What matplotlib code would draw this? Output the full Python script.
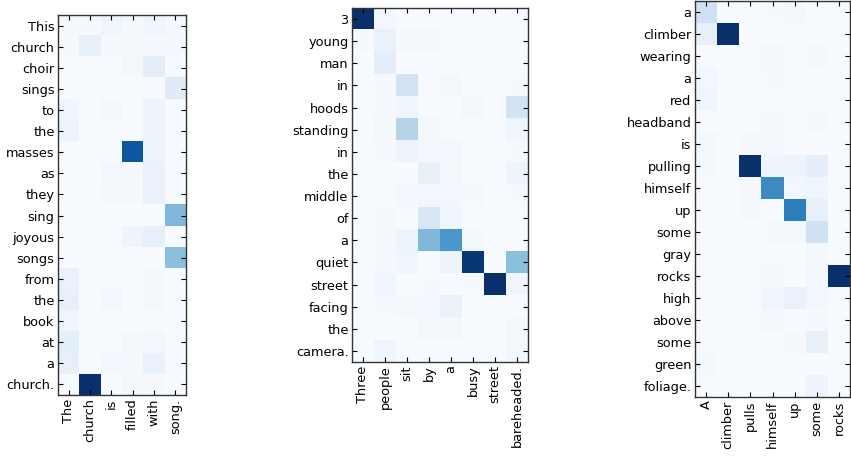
import matplotlib
matplotlib.use("Agg")
import matplotlib.pyplot as plt
import numpy as np

# panel 1
src1 = ["The", "church", "is", "filled", "with", "song."]
tgt1 = ["This", "church", "choir", "sings", "to", "the", "masses", "as", "they",
        "sing", "joyous", "songs", "from", "the", "book", "at", "a", "church."]
att1 = [
    [0.02, 0.01, 0.04, 0.02, 0.04, 0.01],
    [0.01, 0.08, 0.01, 0.01, 0.01, 0.01],
    [0.00, 0.00, 0.00, 0.02, 0.10, 0.00],
    [0.00, 0.00, 0.00, 0.00, 0.00, 0.12],
    [0.04, 0.00, 0.02, 0.00, 0.05, 0.00],
    [0.06, 0.00, 0.00, 0.00, 0.05, 0.00],
    [0.00, 0.00, 0.00, 0.85, 0.06, 0.00],
    [0.00, 0.00, 0.03, 0.01, 0.07, 0.00],
    [0.00, 0.00, 0.02, 0.01, 0.07, 0.00],
    [0.00, 0.00, 0.00, 0.00, 0.00, 0.45],
    [0.00, 0.00, 0.00, 0.05, 0.08, 0.00],
    [0.00, 0.00, 0.00, 0.00, 0.00, 0.42],
    [0.07, 0.00, 0.00, 0.00, 0.02, 0.00],
    [0.08, 0.00, 0.03, 0.00, 0.02, 0.00],
    [0.04, 0.00, 0.00, 0.00, 0.00, 0.00],
    [0.09, 0.00, 0.00, 0.02, 0.03, 0.00],
    [0.08, 0.00, 0.03, 0.01, 0.07, 0.00],
    [0.00, 1.00, 0.00, 0.02, 0.01, 0.00],
]

# panel 2
src2 = ["Three", "people", "sit", "by", "a", "busy", "street", "bareheaded."]
tgt2 = ["3", "young", "man", "in", "hoods", "standing", "in", "the", "middle",
        "of", "a", "quiet", "street", "facing", "the", "camera."]
att2 = [
    [1.00, 0.03, 0.00, 0.00, 0.00, 0.00, 0.00, 0.00],
    [0.01, 0.07, 0.01, 0.01, 0.00, 0.00, 0.00, 0.00],
    [0.00, 0.10, 0.00, 0.00, 0.00, 0.00, 0.00, 0.00],
    [0.00, 0.01, 0.18, 0.00, 0.02, 0.00, 0.00, 0.01],
    [0.00, 0.01, 0.04, 0.00, 0.00, 0.02, 0.00, 0.18],
    [0.00, 0.02, 0.30, 0.02, 0.00, 0.00, 0.00, 0.04],
    [0.00, 0.01, 0.05, 0.03, 0.03, 0.00, 0.00, 0.01],
    [0.00, 0.00, 0.00, 0.08, 0.02, 0.00, 0.00, 0.05],
    [0.00, 0.00, 0.03, 0.03, 0.03, 0.01, 0.00, 0.01],
    [0.00, 0.01, 0.00, 0.15, 0.04, 0.00, 0.00, 0.00],
    [0.00, 0.01, 0.05, 0.45, 0.60, 0.02, 0.00, 0.00],
    [0.00, 0.01, 0.04, 0.00, 0.05, 0.97, 0.00, 0.42],
    [0.00, 0.04, 0.00, 0.01, 0.00, 0.01, 1.00, 0.04],
    [0.00, 0.01, 0.02, 0.03, 0.07, 0.00, 0.00, 0.00],
    [0.00, 0.00, 0.00, 0.02, 0.02, 0.00, 0.00, 0.02],
    [0.00, 0.04, 0.00, 0.00, 0.00, 0.00, 0.00, 0.02],
]

# panel 3
src3 = ["A", "climber", "pulls", "himself", "up", "some", "rocks"]
tgt3 = ["a", "climber", "wearing", "a", "red", "headband", "is", "pulling",
        "himself", "up", "some", "gray", "rocks", "high", "above", "some",
        "green", "foliage."]
att3 = [
    [0.20, 0.00, 0.00, 0.01, 0.02, 0.00, 0.00],
    [0.08, 1.00, 0.00, 0.00, 0.00, 0.00, 0.00],
    [0.00, 0.00, 0.00, 0.02, 0.00, 0.01, 0.00],
    [0.03, 0.00, 0.00, 0.01, 0.00, 0.00, 0.00],
    [0.04, 0.00, 0.00, 0.00, 0.00, 0.00, 0.00],
    [0.00, 0.00, 0.00, 0.02, 0.00, 0.01, 0.00],
    [0.02, 0.00, 0.01, 0.02, 0.00, 0.00, 0.00],
    [0.02, 0.00, 1.00, 0.05, 0.05, 0.09, 0.00],
    [0.00, 0.00, 0.01, 0.65, 0.03, 0.04, 0.00],
    [0.00, 0.00, 0.01, 0.00, 0.70, 0.08, 0.00],
    [0.00, 0.00, 0.00, 0.01, 0.02, 0.20, 0.00],
    [0.00, 0.00, 0.00, 0.00, 0.00, 0.02, 0.00],
    [0.00, 0.00, 0.00, 0.02, 0.00, 0.03, 1.00],
    [0.00, 0.00, 0.00, 0.04, 0.07, 0.03, 0.00],
    [0.00, 0.00, 0.00, 0.02, 0.00, 0.01, 0.00],
    [0.00, 0.00, 0.00, 0.00, 0.01, 0.08, 0.00],
    [0.02, 0.00, 0.00, 0.00, 0.00, 0.00, 0.00],
    [0.00, 0.00, 0.00, 0.00, 0.00, 0.05, 0.00],
]

W, H = 851, 458
# axes boxes in pixels: left, top, right, bottom
boxes = [(58, 15, 186, 395), (352, 8, 528, 362), (695, 1, 850, 397)]
panels = [(src1, tgt1, att1), (src2, tgt2, att2), (src3, tgt3, att3)]

fig = plt.figure(figsize=(W / 100, H / 100), dpi=100)
for (l, t, r, b), (src, tgt, att) in zip(boxes, panels):
    ax = fig.add_axes([l / W, 1 - b / H, (r - l) / W, (b - t) / H])
    ax.imshow(np.array(att), cmap="Blues", vmin=0, vmax=1,
              interpolation="nearest", aspect="auto")
    ax.set_xticks(range(len(src)))
    ax.set_xticklabels(src, rotation=90, fontsize=9.3)
    ax.set_yticks(range(len(tgt)))
    ax.set_yticklabels(tgt, fontsize=9.3)
    ax.tick_params(direction="in", length=3.5, width=0.8, pad=2.5,
                   top=True, right=True)
    for s in ax.spines.values():
        s.set_linewidth(1.0)
        s.set_color("#333333")

fig.savefig("out.png", dpi=100)
